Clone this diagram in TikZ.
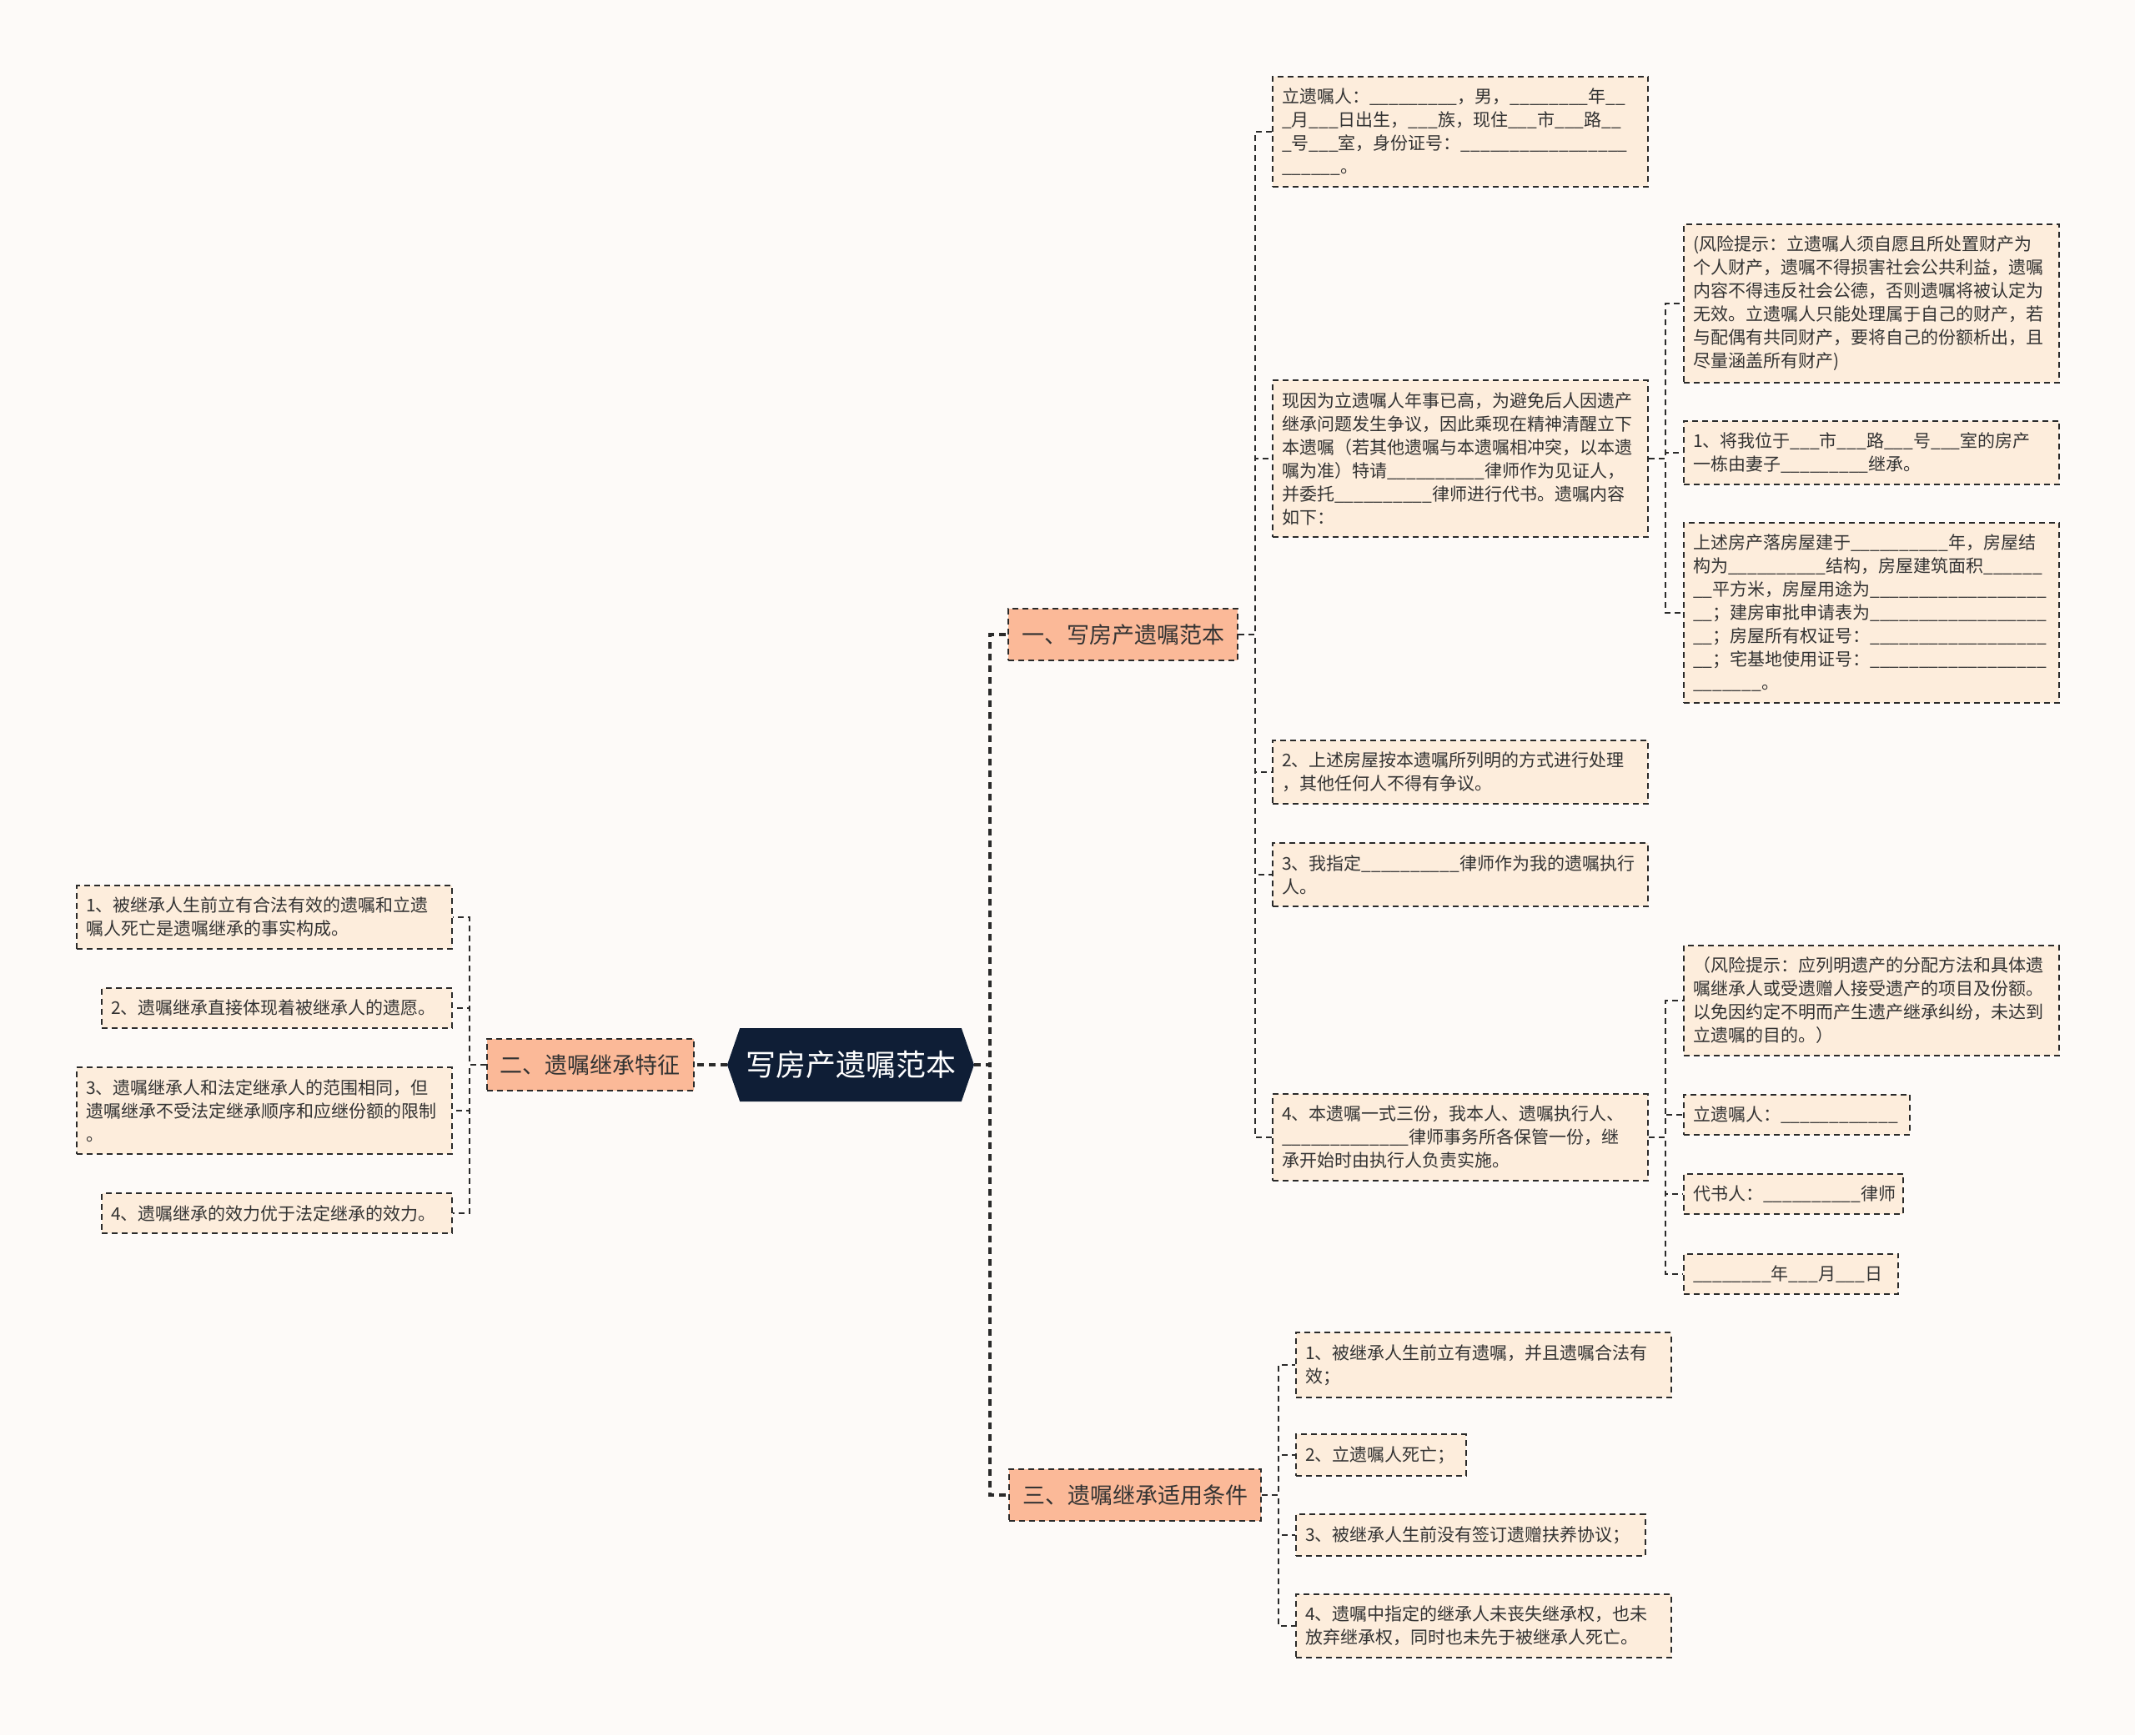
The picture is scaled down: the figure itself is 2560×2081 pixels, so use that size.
\documentclass[tikz,border=0pt]{standalone}
\usepackage{fontspec}
\setmainfont{Noto Sans CJK SC}
\usetikzlibrary{shapes.symbols, positioning}
\definecolor{bgcol}{HTML}{FDFAF8}
\definecolor{rootcol}{HTML}{0F1E36}
\definecolor{branchcol}{HTML}{FBB998}
\definecolor{leafcol}{HTML}{FDEDDC}
\definecolor{linecol}{HTML}{2A2A2A}
\definecolor{textcol}{HTML}{333333}

\begin{document}
\begin{tikzpicture}[
    x=1pt, y=-1pt,
    root/.style={signal, signal to=east and west, signal pointer angle=142,
                 fill=rootcol, text=white, minimum width=296pt, minimum height=88pt,
                 inner sep=0pt, font=\fontsize{36}{40}\selectfont},
    branch/.style={draw=linecol, line width=2pt, dash pattern=on 7pt off 5pt,
                   fill=branchcol, text=textcol, minimum height=62pt, inner xsep=16pt,
                   font=\fontsize{27}{30}\selectfont},
    leaf/.style={draw=linecol, line width=2pt, dash pattern=on 7pt off 5pt,
                 fill=leafcol, text=textcol, align=left, text width=#1,
                 inner xsep=11pt, inner ysep=14pt, font=\fontsize{21}{28}\selectfont},
    leaf/.default=428pt,
    conn/.style={draw=linecol, line width=2pt, dash pattern=on 7pt off 5pt},
    trunk/.style={draw=linecol, line width=3.5pt, dash pattern=on 8pt off 6pt}
]
    \useasboundingbox (0,0) rectangle (2560,2081);
    \fill[bgcol] (0,0) rectangle (2560,2081);

    \node[root] (root) at (1020,1277) {写房产遗嘱范本};
    \node[branch, anchor=west] (b1) at (1208,761) {一、写房产遗嘱范本};
    \node[branch, left=39pt of root] (b2) {二、遗嘱继承特征};
    \node[branch, anchor=west] (b3) at (1209,1793) {三、遗嘱继承适用条件};

    % branch one
    \node[leaf, anchor=west] (a1) at (1525,158) {立遗嘱人：\_\_\_\_\_\_\_\_\_，男，\_\_\_\_\_\_\_\_年\_\_\\
        \_月\_\_\_日出生，\_\_\_族，现住\_\_\_市\_\_\_路\_\_\\
        \_号\_\_\_室，身份证号：\_\_\_\_\_\_\_\_\_\_\_\_\_\_\_\_\_\\
        \_\_\_\_\_\_。};
    \node[leaf, anchor=west] (a2) at (1525,550) {现因为立遗嘱人年事已高，为避免后人因遗产\\
        继承问题发生争议，因此乘现在精神清醒立下\\
        本遗嘱（若其他遗嘱与本遗嘱相冲突，以本遗\\
        嘱为准）特请\_\_\_\_\_\_\_\_\_\_律师作为见证人，\\
        并委托\_\_\_\_\_\_\_\_\_\_律师进行代书。遗嘱内容\\
        如下：};
    \node[leaf, anchor=west] (a3) at (1525,926) {2、上述房屋按本遗嘱所列明的方式进行处理\\
        ，其他任何人不得有争议。};
    \node[leaf, anchor=west] (a4) at (1525,1049) {3、我指定\_\_\_\_\_\_\_\_\_\_律师作为我的遗嘱执行\\
        人。};
    \node[leaf, anchor=west] (a5) at (1525,1364) {4、本遗嘱一式三份，我本人、遗嘱执行人、\\
        \_\_\_\_\_\_\_\_\_\_\_\_\_律师事务所各保管一份，继\\
        承开始时由执行人负责实施。};

    \node[leaf, anchor=west] (r1) at (2018,364) {(风险提示：立遗嘱人须自愿且所处置财产为\\
        个人财产，遗嘱不得损害社会公共利益，遗嘱\\
        内容不得违反社会公德，否则遗嘱将被认定为\\
        无效。立遗嘱人只能处理属于自己的财产，若\\
        与配偶有共同财产，要将自己的份额析出，且\\
        尽量涵盖所有财产)};
    \node[leaf, anchor=west] (r2) at (2018,543) {1、将我位于\_\_\_市\_\_\_路\_\_\_号\_\_\_室的房产\\
        一栋由妻子\_\_\_\_\_\_\_\_\_继承。};
    \node[leaf, anchor=west] (r3) at (2018,735) {上述房产落房屋建于\_\_\_\_\_\_\_\_\_\_年，房屋结\\
        构为\_\_\_\_\_\_\_\_\_\_结构，房屋建筑面积\_\_\_\_\_\_\\
        \_\_平方米，房屋用途为\_\_\_\_\_\_\_\_\_\_\_\_\_\_\_\_\_\_\\
        \_\_；建房审批申请表为\_\_\_\_\_\_\_\_\_\_\_\_\_\_\_\_\_\_\\
        \_\_；房屋所有权证号：\_\_\_\_\_\_\_\_\_\_\_\_\_\_\_\_\_\_\\
        \_\_；宅基地使用证号：\_\_\_\_\_\_\_\_\_\_\_\_\_\_\_\_\_\_\\
        \_\_\_\_\_\_\_。};
    \node[leaf, anchor=west] (r4) at (2018,1200) {（风险提示：应列明遗产的分配方法和具体遗\\
        嘱继承人或受遗赠人接受遗产的项目及份额。\\
        以免因约定不明而产生遗产继承纠纷，未达到\\
        立遗嘱的目的。）};
    \node[leaf=249pt, anchor=west] (s1) at (2018,1337) {立遗嘱人：\_\_\_\_\_\_\_\_\_\_\_\_};
    \node[leaf=241pt, anchor=west] (s2) at (2018,1432) {代书人：\_\_\_\_\_\_\_\_\_\_律师};
    \node[leaf=235pt, anchor=west] (s3) at (2018,1528) {\_\_\_\_\_\_\_\_年\_\_\_月\_\_\_日};

    % branch two
    \node[leaf, anchor=east] (p1) at (543,1100) {1、被继承人生前立有合法有效的遗嘱和立遗\\
        嘱人死亡是遗嘱继承的事实构成。};
    \node[leaf=398pt, anchor=east] (p2) at (543,1209) {2、遗嘱继承直接体现着被继承人的遗愿。};
    \node[leaf, anchor=east] (p3) at (543,1332) {3、遗嘱继承人和法定继承人的范围相同，但\\
        遗嘱继承不受法定继承顺序和应继份额的限制\\
        。};
    \node[leaf=398pt, anchor=east] (p4) at (543,1455) {4、遗嘱继承的效力优于法定继承的效力。};

    % branch three
    \node[leaf, anchor=west] (t1) at (1553,1637) {1、被继承人生前立有遗嘱，并且遗嘱合法有\\
        效；};
    \node[leaf=182pt, anchor=west] (t2) at (1553,1745) {2、立遗嘱人死亡；};
    \node[leaf=397pt, anchor=west] (t3) at (1553,1841) {3、被继承人生前没有签订遗赠扶养协议；};
    \node[leaf, anchor=west] (t4) at (1553,1950) {4、遗嘱中指定的继承人未丧失继承权，也未\\
        放弃继承权，同时也未先于被继承人死亡。};

    \draw[trunk] (root.east) -- ++(19,0) |- (b1.west);
    \draw[trunk] (root.east) -- ++(19,0) |- (b3.west);
    \draw[trunk] (root.west) -- (b2.east);

    \foreach \c in {a1,a2,a3,a4,a5}
        \draw[conn] (b1.east) -- ++(20,0) |- (\c.west);
    \foreach \c in {r1,r2,r3}
        \draw[conn] (a2.east) -- ++(20,0) |- (\c.west);
    \foreach \c in {r4,s1,s2,s3}
        \draw[conn] (a5.east) -- ++(20,0) |- (\c.west);
    \foreach \c in {p1,p2,p3,p4}
        \draw[conn] (b2.west) -- ++(-20,0) |- (\c.east);
    \foreach \c in {t1,t2,t3,t4}
        \draw[conn] (b3.east) -- ++(20,0) |- (\c.west);
\end{tikzpicture}
\end{document}
